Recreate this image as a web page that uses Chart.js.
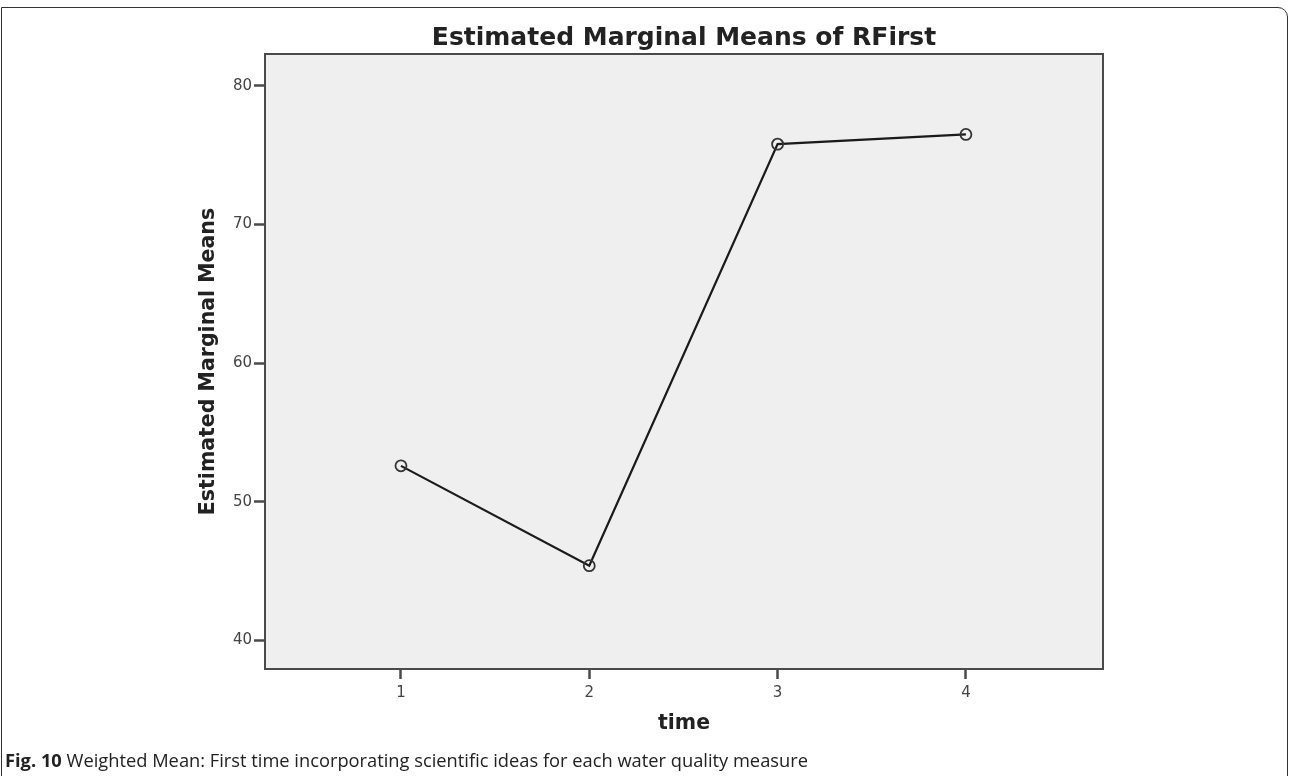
<!DOCTYPE html>
<html>
<head>
<meta charset="utf-8">
<script src="https://cdn.jsdelivr.net/npm/chart.js@4.4.1/dist/chart.umd.min.js"></script>
<style>
  html, body { margin: 0; padding: 0; background: #fff; }
  #wrap { position: relative; width: 1292px; height: 776px; overflow: hidden; }
  #frame {
    position: absolute; left: 1px; top: 7px; width: 1287px; height: 780px;
    border: 1.5px solid #333; border-top-right-radius: 10px; box-sizing: border-box;
  }
  #title {
    position: absolute; left: 265px; width: 838px; top: 20px; text-align: center;
    font: bold 25px "DejaVu Sans", sans-serif; color: #222; line-height: 34px;
  }
  #caption {
    position: absolute; left: 5px; top: 748px; white-space: nowrap;
    font: 18.3px "Open Sans", sans-serif; color: #222; line-height: 24px;
  }
  #chart-box { position: absolute; left: 0; top: 0; width: 1292px; height: 776px; }
</style>
</head>
<body>
<div id="wrap">
  <div id="frame"></div>
  <div id="chart-box"><canvas id="c"></canvas></div>
  <div id="title">Estimated Marginal Means of RFirst</div>
  <div id="caption"><b>Fig. 10</b> Weighted Mean: First time incorporating scientific ideas for each water quality measure</div>
</div>
<script>
  // values
  const timePoints = [1, 2, 3, 4];
  const means = [52.6, 45.4, 75.8, 76.5];
  const yTicks = [40, 50, 60, 70, 80];

  const AXIS = '#4a4a4a';
  const TEXT = '#444';

  // plot background + box around it
  const plotBox = {
    id: 'plotBox',
    beforeDraw(chart) {
      const { ctx, chartArea: a } = chart;
      ctx.save();
      ctx.fillStyle = '#efefef';
      ctx.fillRect(a.left, a.top, a.right - a.left, a.bottom - a.top);
      ctx.restore();
    },
    afterDraw(chart) {
      const { ctx, chartArea: a } = chart;
      ctx.save();
      ctx.strokeStyle = AXIS;
      ctx.lineWidth = 2;
      ctx.strokeRect(a.left, a.top, a.right - a.left, a.bottom - a.top);
      ctx.restore();
    }
  };

  new Chart(document.getElementById('c'), {
    type: 'line',
    data: {
      datasets: [{
        data: timePoints.map((t, i) => ({ x: t, y: means[i] })),
        borderColor: '#1a1a1a',
        borderWidth: 2.2,
        pointRadius: 5.5,
        pointBorderWidth: 1.8,
        pointBorderColor: '#333',
        pointBackgroundColor: 'rgba(0,0,0,0)',
        tension: 0
      }]
    },
    plugins: [plotBox],
    options: {
      responsive: true,
      maintainAspectRatio: false,
      animation: false,
      layout: { padding: { top: 54, right: 189, left: 0, bottom: 0 } },
      plugins: { legend: { display: false }, tooltip: { enabled: false } },
      scales: {
        x: {
          type: 'linear',
          min: 0.278,
          max: 4.728,
          afterBuildTicks: s => { s.ticks = timePoints.map(v => ({ value: v })); },
          afterFit: s => { s.height = 776 - 669; },
          ticks: { color: TEXT, font: { family: 'DejaVu Sans', size: 15 }, padding: 5 },
          grid: { drawOnChartArea: false, tickLength: 10, tickColor: AXIS, tickWidth: 2.5 },
          border: { display: true, color: AXIS, width: 2 },
          title: {
            display: true, text: 'time', color: '#222',
            font: { family: 'DejaVu Sans', size: 20.5, weight: 'bold' },
            padding: { top: 0, bottom: 40 }
          }
        },
        y: {
          min: 37.95,
          max: 82.3,
          afterBuildTicks: s => { s.ticks = yTicks.map(v => ({ value: v })); },
          afterFit: s => { s.width = 265; },
          ticks: { color: TEXT, font: { family: 'DejaVu Sans', size: 15 }, padding: 2 },
          grid: { drawOnChartArea: false, tickLength: 11, tickColor: AXIS, tickWidth: 2.5 },
          border: { display: true, color: AXIS, width: 2 },
          title: {
            display: true, text: 'Estimated Marginal Means', color: '#222',
            font: { family: 'DejaVu Sans', size: 20.5, weight: 'bold' },
            padding: { top: 196, bottom: 0 }
          }
        }
      }
    }
  });
</script>
</body>
</html>
